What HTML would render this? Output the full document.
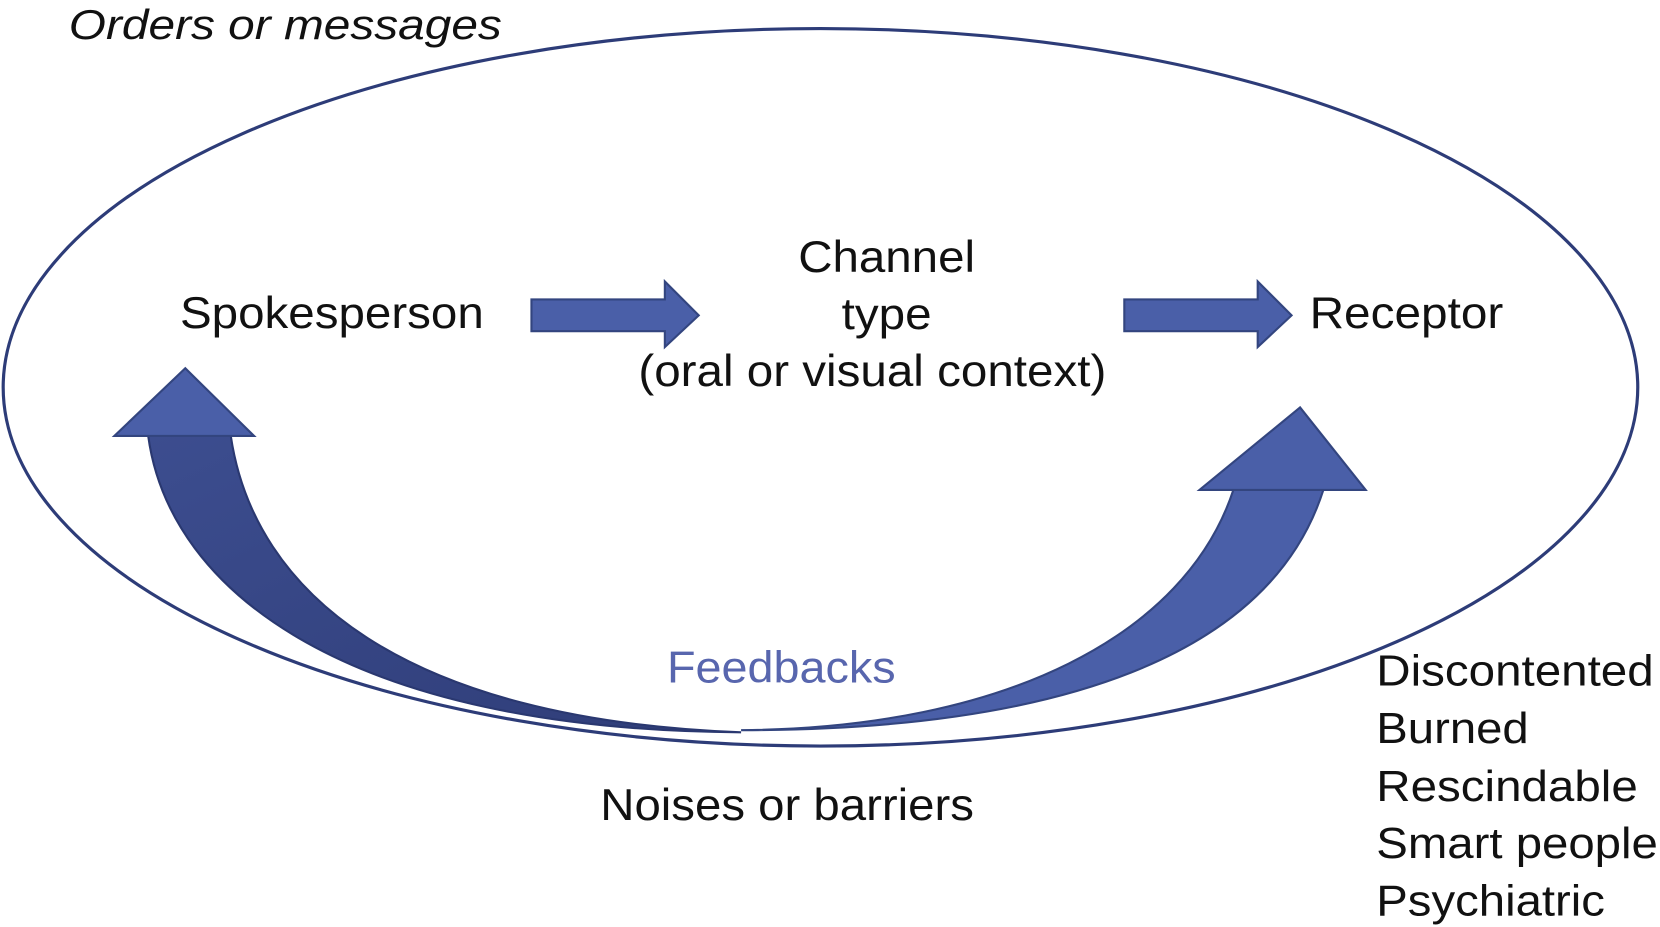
<!DOCTYPE html>
<html><head><meta charset="utf-8"><style>
html,body{margin:0;padding:0;background:#fff;}
svg{display:block;}
text{font-family:"Liberation Sans",Arial,sans-serif;fill:#111;}
</style></head><body>
<svg width="1660" height="927" viewBox="0 0 1568 876" preserveAspectRatio="none" xmlns="http://www.w3.org/2000/svg">
<defs>
<linearGradient id="gl" x1="0" y1="0" x2="1" y2="1">
<stop offset="0" stop-color="#3c4d8f"/><stop offset="1" stop-color="#2f3d78"/>
</linearGradient>
</defs>
<ellipse cx="775" cy="366" rx="772" ry="339" fill="none" stroke="#2d3c78" stroke-width="3"/>
<text x="65" y="37" font-size="39" font-style="italic" textLength="409" lengthAdjust="spacingAndGlyphs">Orders or messages</text>
<text x="170" y="310" font-size="42" textLength="287" lengthAdjust="spacingAndGlyphs">Spokesperson</text>
<text x="754" y="257" font-size="42" textLength="167" lengthAdjust="spacingAndGlyphs">Channel</text>
<text x="795" y="311" font-size="42" textLength="85" lengthAdjust="spacingAndGlyphs">type</text>
<text x="603" y="365" font-size="42" textLength="442" lengthAdjust="spacingAndGlyphs">(oral or visual context)</text>
<text x="1237" y="310" font-size="42" textLength="183" lengthAdjust="spacingAndGlyphs">Receptor</text>
<polygon points="502,283 628,283 628,266 660,298 628,328 628,313 502,313" fill="#4a5fa8" stroke="#33457f" stroke-width="2"/>
<polygon points="1062,283 1188,283 1188,266 1220,298 1188,328 1188,313 1062,313" fill="#4a5fa8" stroke="#33457f" stroke-width="2"/>
<path d="M140,412 C160,560 330,690 700,692 C380,680 240,560 218,412 Z" fill="url(#gl)" stroke="#2a3870" stroke-width="2"/>
<polygon points="175,348 108,412 240,412" fill="#4a5fa8" stroke="#33457f" stroke-width="2"/>
<path d="M1165,463 C1120,600 950,688 700,690 C1000,690 1200,620 1250,463 Z" fill="#4a5fa8" stroke="#33457f" stroke-width="2"/>
<polygon points="1228,385 1133,463 1290,463" fill="#4a5fa8" stroke="#33457f" stroke-width="2"/>
<text x="630" y="645" font-size="42" style="fill:#5866ae" textLength="216" lengthAdjust="spacingAndGlyphs">Feedbacks</text>
<text x="567" y="775" font-size="42" textLength="353" lengthAdjust="spacingAndGlyphs">Noises or barriers</text>
<text x="1300" y="648" font-size="41" textLength="262" lengthAdjust="spacingAndGlyphs">Discontented</text>
<text x="1300" y="702" font-size="41" textLength="144" lengthAdjust="spacingAndGlyphs">Burned</text>
<text x="1300" y="757" font-size="41" textLength="247" lengthAdjust="spacingAndGlyphs">Rescindable</text>
<text x="1300" y="811" font-size="41" textLength="266" lengthAdjust="spacingAndGlyphs">Smart people</text>
<text x="1300" y="865" font-size="41" textLength="216" lengthAdjust="spacingAndGlyphs">Psychiatric</text>
</svg>
</body></html>
